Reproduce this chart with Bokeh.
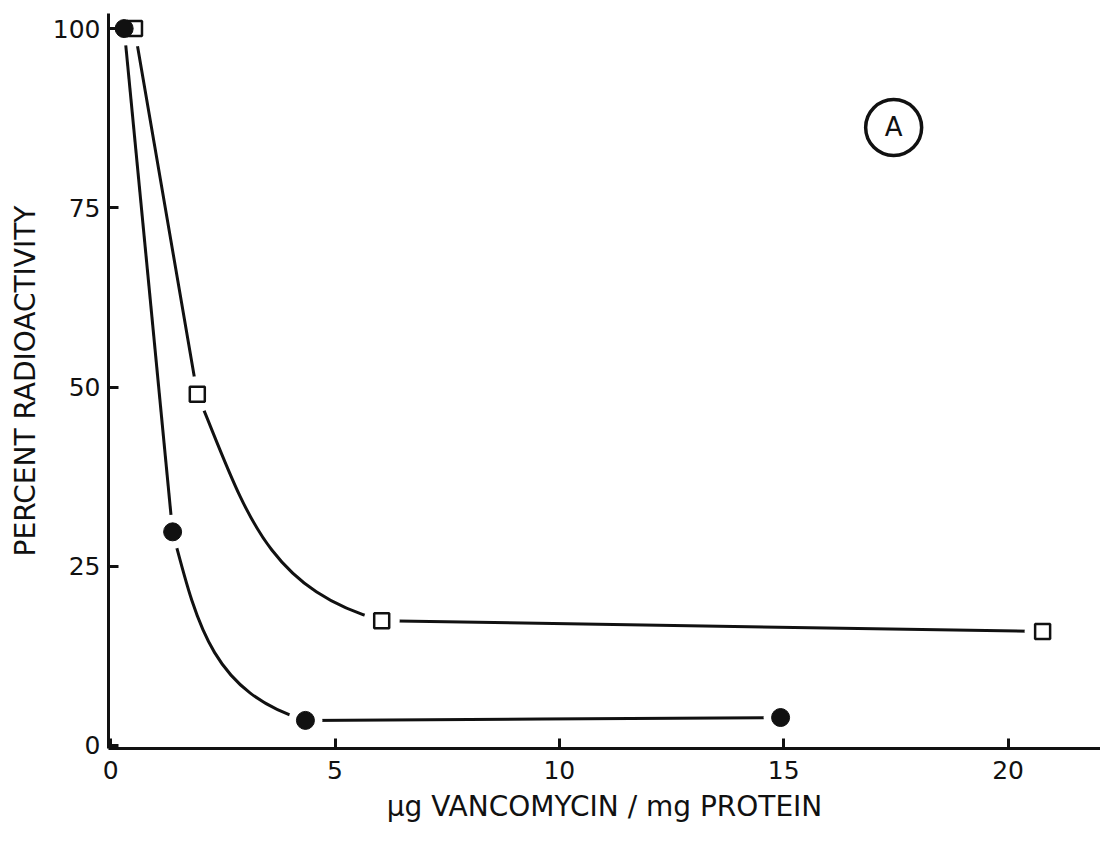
import math
from bokeh.plotting import figure
from bokeh.models import Range1d, FixedTicker, Label
from bokeh.embed import file_html
from bokeh.resources import INLINE

# ---- data ----
dose_filled = [0.3, 1.38, 4.34, 14.93]     # µg vancomycin / mg protein (filled circles)
pct_filled = [100.0, 29.8, 3.5, 3.9]        # percent radioactivity
dose_open = [0.53, 1.93, 6.04, 20.77]      # open squares
pct_open = [100.0, 49.0, 17.4, 15.9]
x_ticks = [0, 5, 10, 15, 20]
y_ticks = [0, 25, 50, 75, 100]
panel_label = "A"
x_title = "µg VANCOMYCIN / mg PROTEIN"
y_title = "PERCENT RADIOACTIVITY"

# ---- layout / style constants ----
FONT = "DejaVu Sans"
INK = "#111111"
PANEL_X, PANEL_Y = 17.45, 86.2
W, H = 1100, 846
B_LEFT, B_RIGHT, B_TOP, B_BOTTOM = 108, 0, 13, 98
X0, X1 = -0.049, 22.06
Y0, Y1 = -0.42, 102.1
KX = (W - B_LEFT - B_RIGHT) / (X1 - X0)   # px per x unit
KY = (H - B_TOP - B_BOTTOM) / (Y1 - Y0)   # px per y unit
TENSION = [None, 0.42, None]              # None -> straight piece


def bezier_pieces(xs, ys):
    """Smooth curve through the data points, shaped in screen proportions."""
    n = len(xs)
    px = [x * KX for x in xs]
    py = [y * KY for y in ys]

    def unit(dx, dy):
        l = math.hypot(dx, dy)
        return dx / l, dy / l

    dirs = [unit(px[1] - px[0], py[1] - py[0])]
    for i in range(1, n - 1):
        dirs.append(unit(px[i + 1] - px[i - 1], py[i + 1] - py[i - 1]))
    dirs.append(unit(px[-1] - px[-2], py[-1] - py[-2]))
    out = dict(x0=[], y0=[], x1=[], y1=[], cx0=[], cy0=[], cx1=[], cy1=[])
    for i in range(n - 1):
        chord = math.hypot(px[i + 1] - px[i], py[i + 1] - py[i])
        tension = TENSION[i]
        if tension is None:
            d0 = d1 = unit(px[i + 1] - px[i], py[i + 1] - py[i])
            tension = 1 / 3
        else:
            d0, d1 = dirs[i], dirs[i + 1]
        h = tension * chord
        out["x0"].append(xs[i]); out["y0"].append(ys[i])
        out["x1"].append(xs[i + 1]); out["y1"].append(ys[i + 1])
        out["cx0"].append((px[i] + h * d0[0]) / KX)
        out["cy0"].append((py[i] + h * d0[1]) / KY)
        out["cx1"].append((px[i + 1] - h * d1[0]) / KX)
        out["cy1"].append((py[i + 1] - h * d1[1]) / KY)
    return out


p = figure(width=W, height=H, output_backend="svg", toolbar_location=None,
           x_range=Range1d(X0, X1), y_range=Range1d(Y0, Y1),
           min_border_left=B_LEFT, min_border_right=B_RIGHT,
           min_border_top=B_TOP, min_border_bottom=B_BOTTOM)
p.outline_line_color = None
p.xgrid.visible = False
p.ygrid.visible = False
p.background_fill_color = "white"
p.border_fill_color = "white"

for xs, ys in ((dose_filled, pct_filled), (dose_open, pct_open)):
    b = bezier_pieces(xs, ys)
    p.bezier(x0=b["x0"], y0=b["y0"], x1=b["x1"], y1=b["y1"],
             cx0=b["cx0"], cy0=b["cy0"], cx1=b["cx1"], cy1=b["cy1"],
             line_color=INK, line_width=3)

# white halos create the gaps between curves and markers
p.scatter(dose_open, pct_open, marker="circle", size=36, fill_color="white", line_color=None)
p.scatter(dose_filled, pct_filled, marker="circle", size=34, fill_color="white", line_color=None)

p.scatter(dose_open, pct_open, marker="square", size=15, fill_color="white",
          line_color=INK, line_width=2.5)
p.scatter(dose_filled, pct_filled, marker="circle", size=18, fill_color=INK, line_color=INK)

# circled panel letter
p.scatter([PANEL_X], [PANEL_Y], marker="circle", size=56, fill_color=None,
          line_color=INK, line_width=3.5)
p.add_layout(Label(x=PANEL_X, y=PANEL_Y, text=panel_label, text_align="center",
                   text_baseline="middle", text_font=FONT, text_font_size="26px",
                   text_color=INK))

for ax in (p.xaxis[0], p.yaxis[0]):
    ax.axis_line_width = 3
    ax.axis_line_color = INK
    ax.major_tick_line_width = 3
    ax.major_tick_line_color = INK
    ax.major_tick_in = 10
    ax.major_tick_out = 0
    ax.minor_tick_line_color = None
    ax.major_label_text_font = FONT
    ax.major_label_text_font_size = "25px"
    ax.major_label_text_color = INK
    ax.axis_label_text_font = FONT
    ax.axis_label_text_font_style = "normal"
    ax.axis_label_text_color = INK

p.xaxis.ticker = FixedTicker(ticks=x_ticks)
p.yaxis.ticker = FixedTicker(ticks=y_ticks)
p.xaxis.axis_label = x_title
p.yaxis.axis_label = y_title
p.xaxis.axis_label_text_font_size = "28px"
p.yaxis.axis_label_text_font_size = "28px"
p.xaxis.major_label_standoff = 12
p.yaxis.major_label_standoff = 8
p.xaxis.axis_label_standoff = 8
p.yaxis.axis_label_standoff = 8

open("out.html", "w").write(file_html(p, INLINE))
